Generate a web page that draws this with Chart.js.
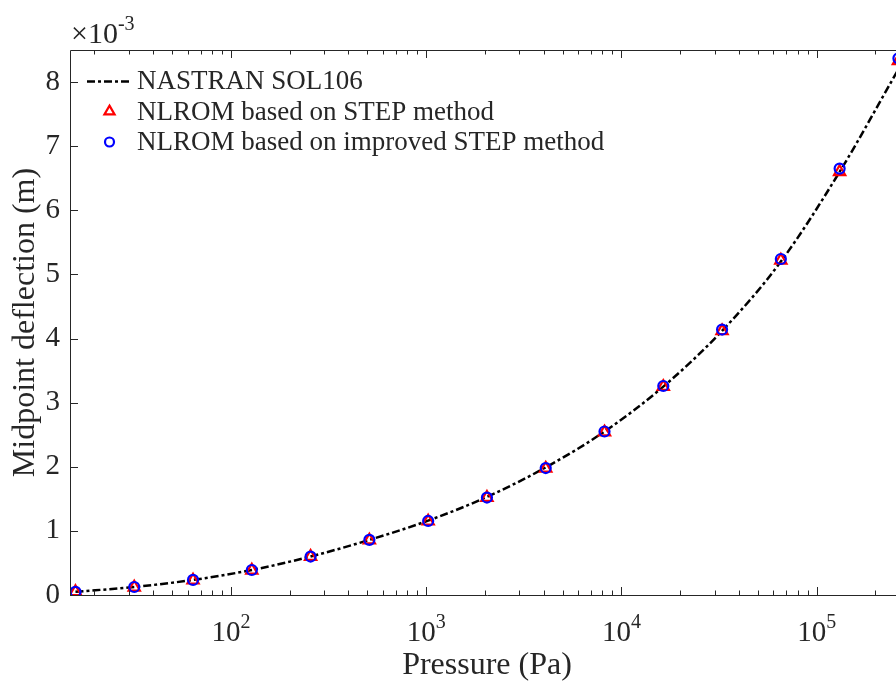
<!DOCTYPE html>
<html>
<head>
<meta charset="utf-8">
<script src="https://cdn.jsdelivr.net/npm/chart.js@4.4.0/dist/chart.umd.min.js"></script>
<style>
    html, body { margin: 0; padding: 0; background: #fff; overflow: hidden; }
    #wrap { width: 896px; height: 683px; overflow: hidden; }
    #grafico { width: 904px; height: 683px; }
</style>
</head>
<body>
<div id="wrap"><canvas id="grafico" width="904" height="683"></canvas></div>
<script>
// pressure steps (Pa) and midpoint deflection in 1e-3 m
const pressoes = [16, 32, 64, 128, 256, 512, 1024, 2048, 4096, 8192, 16384, 32768, 65536, 131072, 262144]
const nastran = [0.05, 0.125, 0.235, 0.39, 0.60, 0.86, 1.16, 1.53, 1.99, 2.55, 3.25, 4.12, 5.20, 6.60, 8.20]
const romStep = [0.05, 0.12, 0.23, 0.385, 0.60, 0.855, 1.15, 1.52, 1.975, 2.54, 3.25, 4.12, 5.22, 6.60, 8.33]
const romImproved = [0.05, 0.125, 0.235, 0.39, 0.60, 0.86, 1.155, 1.52, 1.98, 2.55, 3.26, 4.14, 5.24, 6.65, 8.37]

const legendas = ['NASTRAN SOL106', 'NLROM based on STEP method', 'NLROM based on improved STEP method']
const xMajor = [1e2, 1e3, 1e4, 1e5]
const yTicks = [0, 1, 2, 3, 4, 5, 6, 7, 8]
const xLabel = 'Pressure (Pa)'
const yLabel = 'Midpoint deflection (m)'

const serif = '"Liberation Serif", "Times New Roman", serif'
const corEixo = '#262626'

function pontos(ys) {
    return ys.map((v, i) => ({ x: pressoes[i], y: v }))
}

// minor ticks 2..9 of each decade inside the range
function ticksMenores(min, max) {
    let lista = []
    for (let k = Math.floor(Math.log10(min)); k <= Math.ceil(Math.log10(max)); k++) {
        for (let m = 2; m <= 9; m++) {
            let v = m * Math.pow(10, k)
            if (v > min && v < max) lista.push(v)
        }
    }
    return lista
}

// box, inward ticks, 10^n labels, exponent and legend like matlab
const eixosMatlab = {
    id: 'eixosMatlab',
    afterDatasetsDraw(chart) {
        const { ctx, chartArea: a, scales: { x, y } } = chart
        ctx.save()
        ctx.strokeStyle = corEixo
        ctx.lineWidth = 1
        ctx.setLineDash([])
        ctx.beginPath()
        ctx.rect(a.left + 0.5, a.top + 0.5, a.right - a.left, a.bottom - a.top)
        const menores = ticksMenores(x.min, x.max)
        menores.concat(xMajor).forEach(v => {
            let len = xMajor.includes(v) ? 8 : 4.5
            let px = Math.round(x.getPixelForValue(v)) + 0.5
            ctx.moveTo(px, a.bottom)
            ctx.lineTo(px, a.bottom - len)
            ctx.moveTo(px, a.top)
            ctx.lineTo(px, a.top + len)
        })
        yTicks.forEach(v => {
            let py = Math.round(y.getPixelForValue(v)) + 0.5
            ctx.moveTo(a.left, py)
            ctx.lineTo(a.left + 8, py)
            ctx.moveTo(a.right, py)
            ctx.lineTo(a.right - 8, py)
        })
        ctx.stroke()

        ctx.fillStyle = corEixo
        ctx.textBaseline = 'alphabetic'
        ctx.textAlign = 'left'
        xMajor.forEach(v => {
            let px = x.getPixelForValue(v)
            let exp = String(Math.round(Math.log10(v)))
            ctx.font = `29px ${serif}`
            let w1 = ctx.measureText('10').width
            ctx.font = `20px ${serif}`
            let w2 = ctx.measureText(exp).width
            let inicio = px - (w1 + w2) / 2
            ctx.font = `29px ${serif}`
            ctx.fillText('10', inicio, a.bottom + 46)
            ctx.font = `20px ${serif}`
            ctx.fillText(exp, inicio + w1, a.bottom + 33)
        })

        // x10^-3 above the y axis
        ctx.font = `30px ${serif}`
        ctx.fillText('\u00d710', a.left + 1, a.top - 7)
        let wx = ctx.measureText('\u00d710').width
        ctx.font = `20px ${serif}`
        ctx.fillText('-3', a.left + 1 + wx, a.top - 20)

        // legend
        const linhas = [a.top + 39, a.top + 69.5, a.top + 100]
        chart.data.datasets.forEach((ds, i) => {
            let yc = linhas[i] - 8
            if (ds.showLine) {
                ctx.beginPath()
                ctx.strokeStyle = ds.borderColor
                ctx.lineWidth = ds.borderWidth
                ctx.setLineDash(ds.borderDash)
                ctx.moveTo(a.left + 17, yc + 0.5)
                ctx.lineTo(a.left + 62, yc + 0.5)
                ctx.stroke()
                ctx.setLineDash([])
            } else {
                ctx.strokeStyle = ds.pointBorderColor
                ctx.fillStyle = 'rgba(0,0,0,0)'
                ctx.lineWidth = ds.pointBorderWidth
                Chart.helpers.drawPoint(ctx, {
                    pointStyle: ds.pointStyle,
                    radius: ds.pointRadius * 0.9,
                    rotation: 0,
                    borderWidth: ds.pointBorderWidth
                }, a.left + 39.5, yc)
            }
            ctx.fillStyle = corEixo
            ctx.font = `27px ${serif}`
            ctx.fillText(legendas[i], a.left + 67, linhas[i])
        })
        ctx.restore()
    }
}

document.addEventListener('DOMContentLoaded', () => {
    const ctx = document.getElementById('grafico')

    new Chart(ctx, {
        type: 'scatter',
        data: {
            datasets: [{
                label: legendas[0],
                data: pontos(nastran),
                showLine: true,
                borderColor: '#000000',
                borderWidth: 2.5,
                borderDash: [8, 3, 3, 3],
                pointRadius: 0,
                cubicInterpolationMode: 'monotone',
                order: 3
            }, {
                label: legendas[1],
                data: pontos(romStep),
                showLine: false,
                pointStyle: 'triangle',
                pointRadius: 6.5,
                pointBorderWidth: 2.2,
                pointBorderColor: '#ff0000',
                pointBackgroundColor: 'rgba(0,0,0,0)',
                order: 2
            }, {
                label: legendas[2],
                data: pontos(romImproved),
                showLine: false,
                pointStyle: 'circle',
                pointRadius: 5,
                pointBorderWidth: 2.2,
                pointBorderColor: '#0000ff',
                pointBackgroundColor: 'rgba(0,0,0,0)',
                order: 1
            }]
        },
        options: {
            responsive: false,
            animation: false,
            devicePixelRatio: 1,
            // canvas is a bit wider than the page, right side of the box is cut off
            layout: { autoPadding: false, padding: { top: 50, left: 0, right: 0, bottom: 0 } },
            plugins: {
                legend: { display: false },
                tooltip: { enabled: false }
            },
            scales: {
                x: {
                    type: 'logarithmic',
                    min: 15,
                    max: 2.8e5,
                    grid: { display: false, drawTicks: false },
                    border: { display: false },
                    ticks: { display: false },
                    afterFit: (s) => { s.height = 88 },
                    title: {
                        display: true,
                        text: xLabel,
                        color: corEixo,
                        font: { family: serif, size: 32, lineHeight: 1 },
                        padding: { top: 0, bottom: 1 }
                    }
                },
                y: {
                    min: 0,
                    max: 8.5,
                    afterBuildTicks: (s) => { s.ticks = yTicks.map(v => ({ value: v })) },
                    grid: { display: false, drawTicks: false },
                    border: { display: false },
                    ticks: { color: corEixo, font: { family: serif, size: 29 }, padding: 10 },
                    afterFit: (s) => { s.width = 70 },
                    title: {
                        display: true,
                        text: yLabel,
                        color: corEixo,
                        font: { family: serif, size: 32, lineHeight: 1 },
                        padding: { top: 10, bottom: 0 }
                    }
                }
            }
        },
        plugins: [eixosMatlab]
    })
})
</script>
</body>
</html>
